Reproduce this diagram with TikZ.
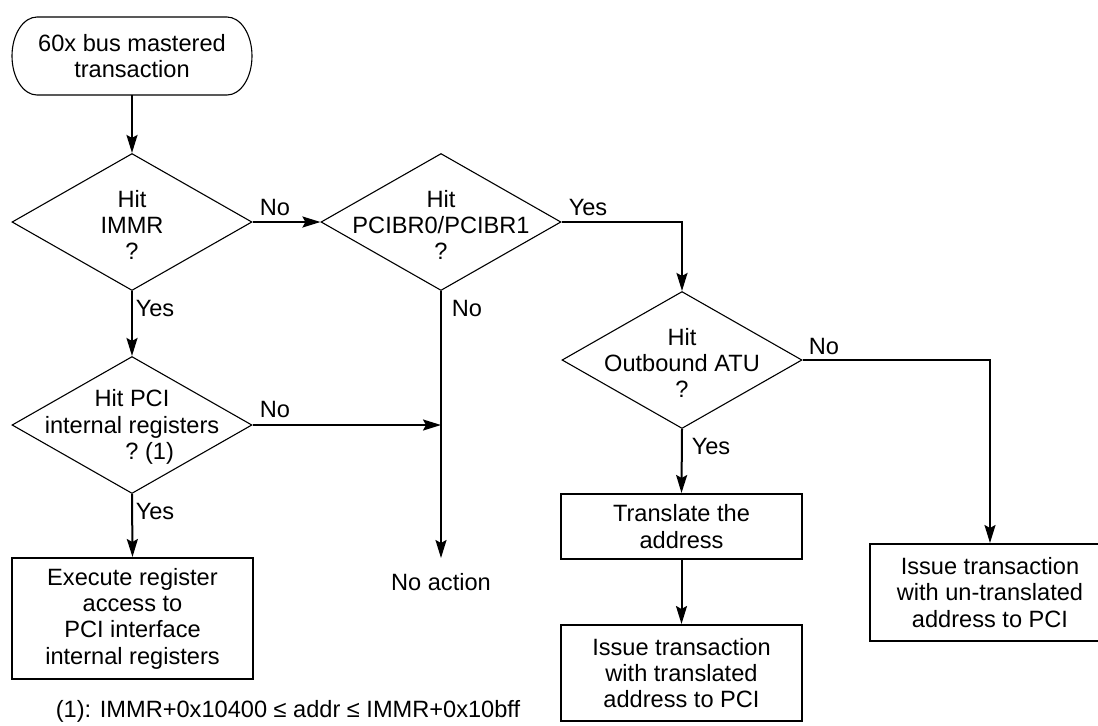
\documentclass[tikz,border=0pt]{standalone}
\usepackage{fontspec}
\setmainfont{Liberation Sans}
\usetikzlibrary{shapes.geometric,arrows.meta}
\begin{document}
\begin{tikzpicture}[x=0.5pt,y=-0.5pt,
  font=\fontsize{11.8pt}{13.2pt}\selectfont,
  dia/.style={draw,line width=0.55pt,shape=diamond,inner sep=0pt,minimum width=120pt,minimum height=68.5pt},
  txt/.style={align=center,inner sep=0pt},
  box/.style={draw,line width=1pt,align=center,inner sep=0pt,minimum width=120.5pt},
  term/.style={align=center,minimum width=120pt,minimum height=39pt,inner sep=0pt},
  arr/.style={line width=1pt,-{Stealth[length=9pt,width=5.5pt,inset=1.5pt]}},
  ln/.style={line width=1pt},
  lbl/.style={inner sep=0pt}]
\useasboundingbox (0,0) rectangle (1098,725);
% nodes
\node[term] (start) at (132,56) {60x bus mastered\\transaction};
\draw[line width=0.55pt] (37,17) -- (227,17)
  arc[start angle=-90,end angle=90,x radius=25,y radius=39]
  -- (37,95)
  arc[start angle=90,end angle=270,x radius=25,y radius=39] -- cycle;
\node[dia] (d1) at (132,222) {};
\node[txt] (t1) at (132,225) {Hit\\IMMR\\?};
\node[dia] (d2) at (441,222) {};
\node[txt] (t2) at (441,225) {Hit\\PCIBR0/PCIBR1\\?};
\node[dia] (d3) at (682,360) {};
\node[txt] (t3) at (682,363) {Hit\\Outbound ATU\\?};
\node[dia] (d4) at (132,425) {};
\node[txt] (t4) at (132,427) {Hit PCI\\internal registers\\?\rlap{ (1)}};
\node[box,minimum height=60.5pt] (exec) at (132.5,618.5) {Execute register\\access to\\PCI interface\\internal registers};
\node[txt] (noact) at (441,582) {No action};
\coordinate (natop) at (441,558);
\coordinate (join) at (441,425);
\node[box,minimum height=32.5pt] (trans) at (681.5,526.5) {Translate the\\address};
\node[box,minimum height=48pt] (issue) at (681.5,673) {Issue transaction\\with translated\\address to PCI};
\node[box,minimum height=48.5pt] (untrans) at (990,592.5) {Issue transaction\\with un-translated\\address to PCI};
\node[txt] (foot) at (288,711) {(1): IMMR+0x10400 ≤ addr ≤ IMMR+0x10bff};
% connectors
\draw[arr] (start.south) -- (d1.north);
\draw[arr] (d1.east) -- (d2.west);
\draw[arr] (d2.east) -| (d3.north);
\draw[arr] (d2.south) -- (natop);
\draw[arr] (d1.south) -- (d4.north);
\draw[arr] (d4.east) -- (join);
\draw[arr] (d4.south) -- (exec.north);
\draw[arr] (d3.south) -- (trans.north);
\draw[arr] (trans.south) -- (issue.north);
\draw[arr] (d3.east) -| (untrans.north);
% labels
\node[lbl] (l1) at (275,207) {No};
\node[lbl] (l2) at (588,207) {Yes};
\node[lbl] (l3) at (155,308) {Yes};
\node[lbl] (l4) at (467,308) {No};
\node[lbl] (l5) at (275,409) {No};
\node[lbl] (l6) at (155,511) {Yes};
\node[lbl] (l7) at (824,346) {No};
\node[lbl] (l8) at (711,446) {Yes};
\end{tikzpicture}
\end{document}
